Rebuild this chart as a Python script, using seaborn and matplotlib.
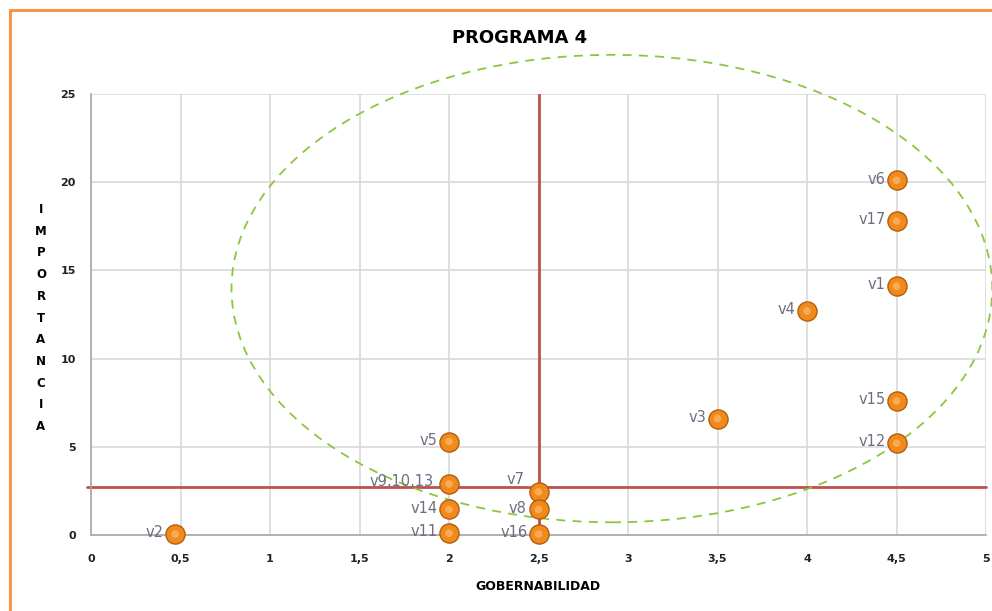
import matplotlib
matplotlib.use("Agg")
import matplotlib.pyplot as plt
from matplotlib.patches import Ellipse
from matplotlib.lines import Line2D
import seaborn as sns
import pandas as pd

# ---- data ----
labels = ["v2", "v5", "v9,10,13", "v14", "v11", "v7", "v8", "v16",
          "v3", "v4", "v6", "v17", "v1", "v15", "v12"]
gobernabilidad = [0.47, 2.0, 2.0, 2.0, 2.0, 2.5, 2.5, 2.5,
                  3.5, 4.0, 4.5, 4.5, 4.5, 4.5, 4.5]
importancia = [0.05, 5.3, 2.9, 1.45, 0.1, 2.45, 1.45, 0.05,
               6.6, 12.7, 20.1, 17.8, 14.1, 7.6, 5.2]
x_ticks = [0, 0.5, 1, 1.5, 2, 2.5, 3, 3.5, 4, 4.5, 5]
x_tick_labels = ["0", "0,5", "1", "1,5", "2", "2,5", "3", "3,5", "4", "4,5", "5"]
y_ticks = [0, 5, 10, 15, 20, 25]
x_mean = 2.5
y_mean = 2.72
ellipse_center = (2.91, 13.97)
ellipse_width = 4.25
ellipse_height = 26.5

# label offsets in points (dx, dy)
label_offsets = {"v7": (-2, 9), "v8": (-1, 1), "v9,10,13": (-3, 2)}

df = pd.DataFrame({"x": gobernabilidad, "y": importancia, "label": labels})

sns.set_style("white")
plt.rcParams["font.family"] = ["Liberation Sans Narrow", "DejaVu Sans"]

fig = plt.figure(figsize=(9.92, 6.11), dpi=100)
ax = fig.add_axes([91 / 992, 1 - 535 / 611, (986 - 91) / 992, (535 - 94) / 611])

ax.set_xlim(0, 5)
ax.set_ylim(0, 25)
ax.set_xticks(x_ticks)
ax.set_xticklabels(x_tick_labels)
ax.set_yticks(y_ticks)
ax.grid(True, color="#d9d9d9", linewidth=1.2)
ax.set_axisbelow(True)
for s in ["top", "right"]:
    ax.spines[s].set_visible(False)
for s in ["left", "bottom"]:
    ax.spines[s].set_color("#a6a6a6")
    ax.spines[s].set_linewidth(1.2)
ax.tick_params(axis="both", length=0, labelsize=8, colors="#222222")
for t in ax.get_xticklabels() + ax.get_yticklabels():
    t.set_fontweight("bold")
ax.tick_params(axis="x", pad=14)
ax.tick_params(axis="y", pad=11)

# red reference lines
ax.axvline(x_mean, ymin=0, ymax=1, color="#c0504d", linewidth=2, zorder=2)
ax.plot([-0.02, 5], [y_mean, y_mean], color="#c0504d", linewidth=2, zorder=2, clip_on=False)

# ellipse
ell = Ellipse(ellipse_center, ellipse_width, ellipse_height, fill=False,
              edgecolor="#8cc63f", linestyle=(0, (5, 4)), linewidth=1.3,
              clip_on=False, zorder=3)
ax.add_patch(ell)

# points
sns.scatterplot(data=df, x="x", y="y", ax=ax, s=190, color="#f08a1c",
                edgecolor="#b25e0c", linewidth=1.0, zorder=5, legend=False,
                clip_on=False)
sns.scatterplot(data=df, x="x", y="y", ax=ax, s=30, color="#ffc27a",
                edgecolor="none", linewidth=0, zorder=6, legend=False,
                clip_on=False, alpha=0.6)

for lab, xv, yv in zip(labels, gobernabilidad, importancia):
    dx, dy = label_offsets.get(lab, (0, 1))
    ax.annotate(lab, (xv, yv), xytext=(-8 + dx, dy), textcoords="offset points",
                ha="right", va="center", fontsize=10.5, color="#6b6f80", zorder=7)

ax.set_xlabel("")
ax.set_ylabel("")

fig.text(520 / 992, 1 - 38 / 611, "PROGRAMA 4", ha="center", va="center",
         fontsize=13, fontweight="bold", color="black")
fig.text(538 / 992, 1 - 586 / 611, "GOBERNABILIDAD", ha="center", va="center",
         fontsize=9, fontweight="bold", color="black")
fig.text(41 / 992, 1 - 318 / 611, "\n".join("IMPORTANCIA"), ha="center", va="center",
         fontsize=8.5, fontweight="bold", color="black", linespacing=1.87)

# orange frame
fig.add_artist(Line2D([10 / 992, 1.0], [1 - 10 / 611, 1 - 10 / 611], transform=fig.transFigure,
                      color="#f79646", linewidth=2.2))
fig.add_artist(Line2D([10 / 992, 10 / 992], [0.0, 1 - 10 / 611], transform=fig.transFigure,
                      color="#f79646", linewidth=2.2))

fig.savefig("out.png", dpi=100)
